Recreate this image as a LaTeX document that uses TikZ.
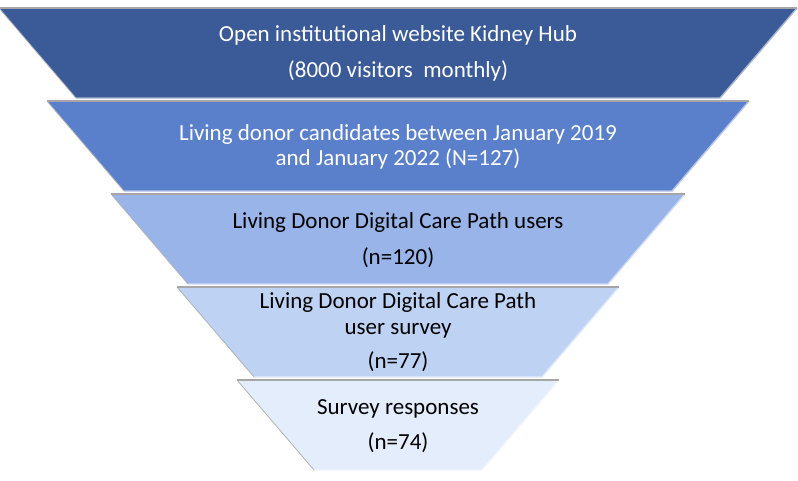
\documentclass[tikz,border=0pt]{standalone}
\usepackage{fontspec}
\setmainfont{Carlito}
\usepackage{xcolor}
\usepackage{tikz}
\definecolor{funnelA}{HTML}{3A5A98}
\definecolor{funnelB}{HTML}{5A7FCB}
\definecolor{funnelC}{HTML}{98B4E8}
\definecolor{funnelD}{HTML}{BED2F4}
\definecolor{funnelE}{HTML}{E3EDFC}
\tikzset{
  rimtop/.style={draw=gray!70, line width=1.3pt},
  rimdark/.style={draw=gray!60, line width=0.8pt},
  rimlight/.style={line width=1.4pt},
  bandtext/.style={align=center, font=\fontsize{23}{28}\selectfont}
}

\begin{document}
\begin{tikzpicture}[x=1pt,y=-1pt]
  \useasboundingbox (0,0) rectangle (798,480);
  % Funnel bands
  \foreach \yt/\hw/\col in {8/399/funnelA,101/351/funnelB,194/287/funnelC,287/221/funnelD,380/161/funnelE} {
    \fill[\col] (398-\hw,\yt) -- (398+\hw,\yt) -- (398+\hw-77,\yt+90) -- (398-\hw+77,\yt+90) -- cycle;
    \draw[rimlight, draw=\col!45!white] (398+\hw,\yt) -- (398+\hw-77,\yt+90) -- (398-\hw+77,\yt+90);
    \draw[rimdark] (398-\hw,\yt) -- (398-\hw+77,\yt+90);
    \draw[rimtop] (398-\hw,\yt) -- (398+\hw,\yt);
  }

  % Band texts
  \node[bandtext, text=white] (website) at (398,53) {Open institutional website Kidney Hub\\[8pt](8000 visitors~ monthly)};
  \node[bandtext, text=white] (candidates) at (398,147) {Living donor candidates between January 2019\\[-3pt]and January 2022 (N=127)};
  \node[bandtext] (users) at (398,240) {Living Donor Digital Care Path users\\[8pt](n=120)};
  \node[bandtext] (survey) at (398,332) {Living Donor Digital Care Path\\[-2pt]user survey\\[6pt](n=77)};
  \node[bandtext] (responses) at (398,426) {Survey responses\\[7pt](n=74)};
\end{tikzpicture}
\end{document}
